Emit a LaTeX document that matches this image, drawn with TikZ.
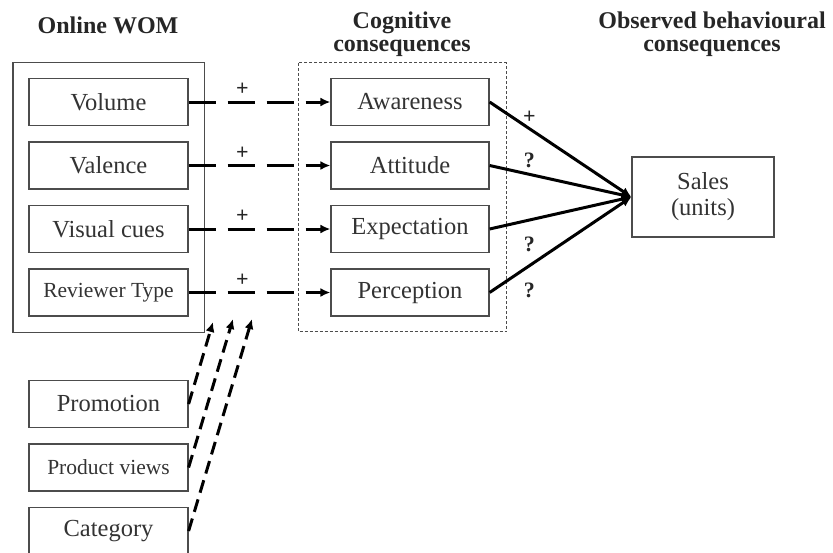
\documentclass[tikz,border=0pt]{standalone}
\usepackage{fontspec}
\setmainfont{Liberation Serif}
\usepackage{tikz}
\usetikzlibrary{arrows.meta, positioning, calc, fit}

\tikzstyle{boite} = [
    rectangle,
    minimum width = 159pt,
    minimum height = 47pt,
    text centered,
    draw = black!70,
    line width = 1.2pt,
    text = black!80,
    font = \fontsize{24.5}{26}\selectfont,
]
\tikzstyle{titre} = [
    align = center,
    text = black!85,
    font = \bfseries\fontsize{24}{23}\selectfont,
]
\tikzstyle{signe} = [
    text = black!85,
    font = \bfseries\fontsize{22}{22}\selectfont,
    inner sep = 1pt,
]
\tikzstyle{pointille} = [
    ->, line width = 3pt, dash pattern = on 27pt off 12pt,
]

\begin{document}
\begin{tikzpicture} [x = 1pt, y = -1pt, node distance = 63.5pt, on grid, >={Latex[length=10pt, width=9pt]}]
    \useasboundingbox (0, 0) rectangle (833, 552);

    % titres
    \node (TitreWOM) [titre] at (108, 25) {Online WOM};
    \node (TitreCog) [titre] at (402, 34) {Cognitive\\consequences};
    \node (TitreObs) [titre] at (712, 34) {Observed behavioural\\consequences};

    % Online WOM
    \node (Volume) [boite] at (108.5, 102) {Volume};
    \node (Valence) [boite, below = of Volume] {Valence};
    \node (Visuel) [boite, below = of Valence] {Visual cues};
    \node (Reviewer) [boite, below = of Visuel, font = \fontsize{21.5}{23}\selectfont] {Reviewer Type};
    \node (WOM) [draw = black!70, line width = 1.2pt, inner sep = 15.5pt, fit = (Volume) (Reviewer)] {};

    % consequences cognitives
    \node (Awareness) [boite, minimum width = 158pt] at (410, 102) {Awareness};
    \node (Attitude) [boite, minimum width = 158pt, below = of Awareness] {Attitude};
    \node (Expectation) [boite, minimum width = 158pt, below = of Attitude] {Expectation};
    \node (Perception) [boite, minimum width = 158pt, below = of Expectation] {Perception};
    \draw[black!70, line width = 1pt, dash pattern = on 3pt off 2pt] ($(Awareness.north west) + (-32, -15)$) rectangle ($(Perception.south east) + (17, 15)$);

    \node (Sales) [boite, minimum width = 142pt, minimum height = 80pt, align = center] at (703, 197) {Sales\\(units)};

    % controles
    \node (Promotion) [boite] at (108.5, 404) {Promotion};
    \node (Vues) [boite, below = of Promotion, font = \fontsize{21.5}{23}\selectfont] {Product views};
    \node (Categorie) [boite, below = of Vues] {Category};

    \draw[pointille] (Volume) -- node[signe, pos = .38, above = 4pt] {+} (Awareness);
    \draw[pointille] (Valence) -- node[signe, pos = .38, above = 4pt] {+} (Attitude);
    \draw[pointille] (Visuel) -- node[signe, pos = .38, above = 4pt] {+} (Expectation);
    \draw[pointille] (Reviewer) -- node[signe, pos = .38, above = 4pt] {+} (Perception);

    \draw[->, line width = 3pt] (Awareness.east) -- node[signe, pos = .28, above = 3pt] {+} (Sales.west);
    \draw[->, line width = 3pt] (Attitude.east) -- node[signe, pos = .28, above = 4pt] {?} (Sales.west);
    \draw[->, line width = 3pt] (Expectation.east) -- node[signe, pos = .28, below = 14pt] {?} (Sales.west);
    \draw[->, line width = 3pt] (Perception.east) -- node[signe, pos = .28, below = 15pt] {?} (Sales.west);

    \coordinate (FinPromo) at (213, 322);
    \coordinate (FinVues) at (233, 319);
    \coordinate (FinCat) at (252, 319);
    \draw[->, line width = 3pt, dash pattern = on 13pt off 7pt] (Promotion.east) -- (FinPromo);
    \draw[->, line width = 3pt, dash pattern = on 13pt off 7pt] (Vues.east) -- (FinVues);
    \draw[->, line width = 3pt, dash pattern = on 13pt off 7pt] (Categorie.east) -- (FinCat);
\end{tikzpicture}
\end{document}
